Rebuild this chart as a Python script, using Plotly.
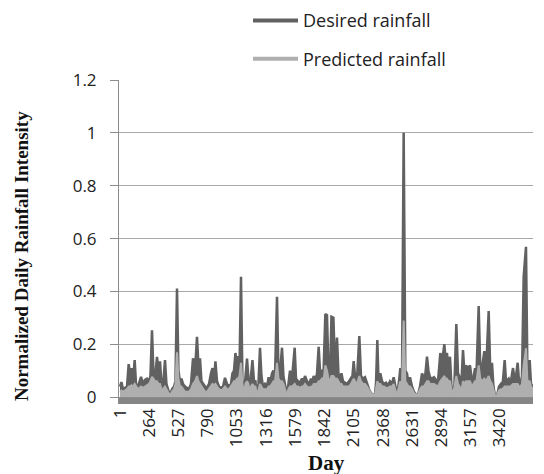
import plotly.graph_objects as go

# Day index of each sampled point
days = [1, 14, 28, 46, 64, 79, 91, 104, 118, 133, 145, 163, 190, 208, 226, 244, 262, 275, 289, 302,
        316, 334, 347, 361, 374, 388, 406, 419, 433, 451, 469, 487, 500, 514, 527, 541, 554, 568, 586, 604,
        622, 640, 658, 676, 694, 707, 721, 734, 748, 766, 784, 802, 820, 833, 847, 860, 874, 892, 910, 928,
        946, 964, 982, 1000, 1013, 1027, 1040, 1054, 1063, 1076, 1090, 1103, 1117, 1130, 1144, 1157, 1171, 1180, 1193, 1207,
        1220, 1234, 1247, 1261, 1274, 1288, 1306, 1324, 1339, 1351, 1369, 1382, 1396, 1414, 1427, 1441, 1459, 1472, 1486, 1504,
        1517, 1531, 1549, 1573, 1585, 1603, 1621, 1639, 1652, 1666, 1684, 1702, 1720, 1733, 1744, 1760, 1774, 1789, 1801, 1819,
        1832, 1849, 1864, 1877, 1891, 1904, 1922, 1936, 1954, 1967, 1981, 1994, 2008, 2026, 2044, 2062, 2080, 2093, 2104, 2116,
        2134, 2155, 2170, 2188, 2206, 2224, 2242, 2260, 2278, 2296, 2305, 2317, 2327, 2344, 2359, 2377, 2395, 2413, 2431, 2449,
        2464, 2480, 2494, 2512, 2524, 2539, 2554, 2569, 2584, 2597, 2611, 2629, 2647, 2665, 2683, 2701, 2719, 2737, 2750, 2764,
        2777, 2791, 2809, 2827, 2845, 2863, 2884, 2899, 2920, 2930, 2944, 2957, 2971, 2984, 2998, 3011, 3028, 3043, 3058, 3070,
        3088, 3101, 3115, 3133, 3151, 3169, 3182, 3196, 3209, 3229, 3244, 3259, 3280, 3295, 3319, 3334, 3349, 3362, 3376, 3394,
        3412, 3430, 3443, 3463, 3475, 3499, 3515, 3538, 3551, 3565, 3580, 3592, 3605, 3619, 3634, 3655, 3668, 3688, 3700, 3718]

desired = [0.04, 0.057, 0.03, 0.035, 0.04, 0.125, 0.09, 0.11, 0.06, 0.14, 0.05, 0.04, 0.077, 0.05, 0.065, 0.07, 0.06, 0.08, 0.253, 0.09,
           0.07, 0.152, 0.10, 0.135, 0.05, 0.04, 0.14, 0.05, 0.03, 0.005, 0.03, 0.04, 0.06, 0.411, 0.10, 0.06, 0.07, 0.05, 0.04, 0.035,
           0.03, 0.05, 0.147, 0.10, 0.228, 0.12, 0.147, 0.06, 0.05, 0.04, 0.035, 0.05, 0.09, 0.11, 0.07, 0.135, 0.06, 0.04, 0.035, 0.04,
           0.073, 0.05, 0.04, 0.05, 0.09, 0.10, 0.167, 0.12, 0.155, 0.10, 0.455, 0.06, 0.01, 0.08, 0.146, 0.07, 0.01, 0.08, 0.14, 0.06,
           0.06, 0.005, 0.05, 0.187, 0.08, 0.04, 0.05, 0.04, 0.075, 0.05, 0.09, 0.10, 0.08, 0.38, 0.10, 0.09, 0.187, 0.08, 0.05, 0.005,
           0.05, 0.10, 0.07, 0.187, 0.07, 0.06, 0.055, 0.07, 0.06, 0.08, 0.06, 0.05, 0.07, 0.06, 0.08, 0.06, 0.09, 0.19, 0.10, 0.10,
           0.08, 0.314, 0.31, 0.10, 0.07, 0.304, 0.30, 0.10, 0.225, 0.09, 0.07, 0.09, 0.06, 0.055, 0.05, 0.06, 0.07, 0.08, 0.136, 0.08,
           0.07, 0.231, 0.08, 0.07, 0.075, 0.05, 0.03, 0.015, 0.01, 0.01, 0.05, 0.216, 0.07, 0.09, 0.06, 0.05, 0.055, 0.045, 0.06, 0.05,
           0.075, 0.04, 0.005, 0.06, 0.11, 0.06, 1.0, 0.10, 0.09, 0.05, 0.075, 0.04, 0.02, 0.01, 0.01, 0.04, 0.09, 0.07, 0.09, 0.153,
           0.10, 0.075, 0.07, 0.075, 0.065, 0.06, 0.167, 0.13, 0.20, 0.15, 0.167, 0.10, 0.153, 0.04, 0.01, 0.05, 0.277, 0.09, 0.075, 0.02,
           0.178, 0.09, 0.12, 0.11, 0.12, 0.06, 0.07, 0.11, 0.08, 0.345, 0.10, 0.11, 0.174, 0.09, 0.326, 0.09, 0.13, 0.04, 0.005, 0.005,
           0.04, 0.05, 0.04, 0.14, 0.06, 0.07, 0.05, 0.11, 0.07, 0.08, 0.13, 0.06, 0.05, 0.08, 0.455, 0.569, 0.08, 0.14, 0.05, 0.04]

predicted = [0.02, 0.025, 0.02, 0.025, 0.03, 0.04, 0.04, 0.045, 0.04, 0.05, 0.04, 0.03, 0.04, 0.035, 0.04, 0.045, 0.05, 0.06, 0.077, 0.07,
             0.06, 0.06, 0.05, 0.05, 0.03, 0.03, 0.04, 0.03, 0.02, 0.005, 0.02, 0.03, 0.05, 0.17, 0.07, 0.04, 0.04, 0.03, 0.02, 0.02,
             0.02, 0.03, 0.05, 0.06, 0.08, 0.06, 0.05, 0.04, 0.03, 0.02, 0.02, 0.03, 0.04, 0.05, 0.045, 0.05, 0.04, 0.03, 0.025, 0.03,
             0.04, 0.03, 0.03, 0.04, 0.05, 0.06, 0.06, 0.07, 0.07, 0.08, 0.13, 0.05, 0.01, 0.05, 0.06, 0.05, 0.005, 0.04, 0.05, 0.04,
             0.04, 0.005, 0.03, 0.05, 0.04, 0.03, 0.03, 0.03, 0.04, 0.04, 0.05, 0.06, 0.06, 0.13, 0.07, 0.06, 0.06, 0.05, 0.03, 0.005,
             0.03, 0.04, 0.04, 0.05, 0.04, 0.04, 0.035, 0.04, 0.04, 0.05, 0.04, 0.035, 0.04, 0.04, 0.05, 0.05, 0.05, 0.06, 0.06, 0.07,
             0.06, 0.12, 0.10, 0.07, 0.06, 0.08, 0.08, 0.07, 0.07, 0.06, 0.05, 0.05, 0.04, 0.04, 0.04, 0.04, 0.05, 0.06, 0.07, 0.06,
             0.05, 0.08, 0.06, 0.05, 0.05, 0.04, 0.025, 0.015, 0.01, 0.01, 0.03, 0.06, 0.05, 0.05, 0.04, 0.04, 0.035, 0.035, 0.04, 0.04,
             0.05, 0.03, 0.005, 0.04, 0.06, 0.05, 0.29, 0.06, 0.05, 0.04, 0.04, 0.03, 0.015, 0.01, 0.01, 0.03, 0.04, 0.04, 0.05, 0.06,
             0.06, 0.05, 0.05, 0.05, 0.045, 0.04, 0.06, 0.07, 0.08, 0.07, 0.07, 0.06, 0.06, 0.03, 0.01, 0.04, 0.08, 0.05, 0.04, 0.015,
             0.06, 0.05, 0.06, 0.06, 0.06, 0.04, 0.05, 0.06, 0.06, 0.12, 0.07, 0.06, 0.07, 0.06, 0.08, 0.06, 0.05, 0.03, 0.005, 0.005,
             0.025, 0.03, 0.03, 0.04, 0.04, 0.04, 0.04, 0.05, 0.05, 0.05, 0.05, 0.04, 0.04, 0.05, 0.12, 0.185, 0.06, 0.06, 0.04, 0.03]

tick_days = [1, 264, 527, 790, 1053, 1316, 1579, 1842, 2105, 2368, 2631, 2894, 3157, 3420]
y_ticks = [0, 0.2, 0.4, 0.6, 0.8, 1.0, 1.2]
y_labels = ["0", "0.2", "0.4", "0.6", "0.8", "1", "1.2"]

DARK = "#616161"
LIGHT = "#afafaf"

fig = go.Figure()
fig.add_trace(go.Scatter(x=days, y=desired, mode="lines", fill="tozeroy",
                         line=dict(color=DARK, width=2.5), fillcolor=DARK, showlegend=False))
fig.add_trace(go.Scatter(x=days, y=predicted, mode="lines", fill="tozeroy",
                         line=dict(color=LIGHT, width=2), fillcolor=LIGHT, showlegend=False))
# legend entries
fig.add_trace(go.Scatter(x=[None], y=[None], mode="lines", name="Desired rainfall",
                         line=dict(color=DARK, width=4), legendgroup="a"))
fig.add_trace(go.Scatter(x=[None], y=[None], mode="lines", name="Predicted rainfall",
                         line=dict(color=LIGHT, width=4), legendgroup="b"))

# thick base band under the zero line
fig.add_shape(type="rect", xref="paper", x0=0, x1=1, yref="y", y0=-0.026, y1=0,
              fillcolor="#858585", line=dict(width=0), layer="above")

fig.add_annotation(text="<b>Day</b>", xref="paper", yref="paper", x=0.5, y=-0.183,
                   xanchor="center", yanchor="middle", showarrow=False,
                   font=dict(size=21, family="Liberation Serif", color="#111111"))
fig.add_annotation(text="<b>Normalized Daily Rainfall Intensity</b>", xref="paper", yref="paper",
                   x=-0.234, y=0.457, xanchor="center", yanchor="middle", textangle=-90,
                   showarrow=False, font=dict(size=19, family="Liberation Serif", color="#111111"))

fig.update_layout(
    width=544, height=474,
    margin=dict(l=119, r=11, t=80, b=70, autoexpand=False),
    paper_bgcolor="white", plot_bgcolor="white",
    font=dict(family="Open Sans", color="#222222"),
    legend=dict(x=0.3116, y=1.24, xanchor="left", yanchor="top",
                font=dict(size=18, family="Open Sans", color="#222222"),
                tracegroupgap=12, itemwidth=45, bgcolor="rgba(0,0,0,0)"),
    xaxis=dict(range=[-8, 3718], tickmode="array", tickvals=tick_days,
               ticktext=[str(d) for d in tick_days], tickangle=-90, automargin=False,
               tickfont=dict(size=17, family="Open Sans", color="#222222"),
               showgrid=False, zeroline=False, showline=False, ticks=""),
    yaxis=dict(range=[-0.026, 1.2], tickmode="array", tickvals=y_ticks, ticktext=y_labels,
               automargin=False,
               tickfont=dict(size=17, family="Open Sans", color="#222222"),
               showgrid=True, gridcolor="#a8a8a8", gridwidth=1, zeroline=False,
               showline=True, linecolor="#8c8c8c", linewidth=1,
               ticks="outside", ticklen=8, tickcolor="#8c8c8c", ticklabelstandoff=10),
)

fig.write_html("out.html", config={"displayModeBar": False},
               post_script="document.body.style.margin='0';document.body.style.padding='0';")
